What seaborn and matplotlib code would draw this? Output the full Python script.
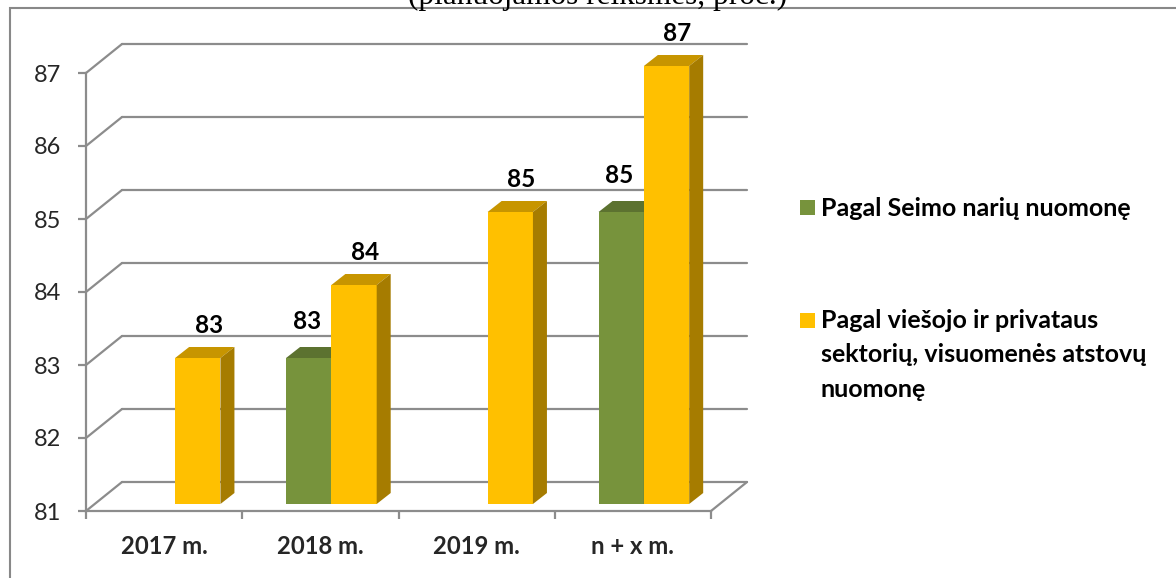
import numpy as np
import pandas as pd
import matplotlib
matplotlib.use("Agg")
import matplotlib.pyplot as plt
import seaborn as sns
from matplotlib.patches import Polygon, Rectangle
from matplotlib.lines import Line2D

# ---------------- data ----------------
categories = ["2017 m.", "2018 m.", "2019 m.", "n + x m."]
series_names = ["Pagal Seimo narių nuomonę",
                "Pagal viešojo ir privataus\nsektorių, visuomenės atstovų\nnuomonę"]
seimo_values = [np.nan, 83, np.nan, 85]
visuomenes_values = [83, 84, 85, 87]
y_ticks = [81, 82, 83, 84, 85, 86, 87]
title_text = "(planuojamos reikšmės, proc.)"

# ---------------- style ----------------
green_front, green_top, green_side = "#77933C", "#5C7230", "#4F6228"
yellow_front, yellow_top, yellow_side = "#FFC000", "#C79500", "#A67C00"
grid_col = "#8C8C8C"

sns.set_style("white")
plt.rcParams["font.family"] = ["Lato", "DejaVu Sans"]

df = pd.DataFrame({
    "category": categories * 2,
    "series": [series_names[0]] * 4 + [series_names[1]] * 4,
    "value": seimo_values + visuomenes_values,
})

W, H = 1176, 578
fig = plt.figure(figsize=(W / 100, H / 100), dpi=100)
ax = fig.add_axes([86 / W, 67 / H, 625 / W, 438 / H])

sns.barplot(data=df, x="category", y="value", hue="series",
            order=categories, hue_order=series_names,
            palette=[green_front, yellow_front], saturation=1,
            width=0.58, linewidth=0, edgecolor="none", legend=False, ax=ax)

ymin, ymax = y_ticks[0], y_ticks[-1]
ax.set_ylim(ymin, ymax)
ax.set_xlim(-0.5, len(categories) - 0.5)
ax.set_xlabel("")
ax.set_ylabel("")
ax.patch.set_alpha(0)


def off(x, y, dx, dy):
    p = ax.transData.transform((x, y))
    return ax.transData.inverted().transform(p + np.array([dx, dy]))


# pseudo-3D walls: back grid lines, side diagonals, floor
WD = (36, 29)   # wall depth in pixels
xl, xr = -0.5, len(categories) - 0.5
for t in y_ticks:
    bl = off(xl, t, *WD)
    br = off(xr, t, *WD)
    ax.add_line(Line2D([bl[0], br[0]], [bl[1], br[1]], color=grid_col, lw=1.6,
                       clip_on=False, zorder=0.5))
    ax.add_line(Line2D([xl, bl[0]], [t, bl[1]], color=grid_col, lw=1.6,
                       clip_on=False, zorder=0.5))
fr = off(xr, ymin, *WD)
ax.add_line(Line2D([xr, fr[0]], [ymin, fr[1]], color=grid_col, lw=1.6,
                   clip_on=False, zorder=0.5))

# bars: shift into the floor, add top and side faces
BF = (11, 7)    # front face shift
BD = (14, 11)   # bar depth
bars = [p for p in ax.patches if isinstance(p, Rectangle)]
n_g = sum(~np.isnan(seimo_values))
for i, bar in enumerate(bars):
    is_green = i < n_g
    top_c = green_top if is_green else yellow_top
    side_c = green_side if is_green else yellow_side
    z = 2 if is_green else 3
    lab_off = (-2, 29) if is_green else (11, 25)
    x0, w, v = bar.get_x(), bar.get_width(), bar.get_height()
    nx0, ny0 = off(x0, ymin, *BF)
    nx1, ny1 = off(x0 + w, v, *BF)
    bar.set_x(nx0)
    bar.set_y(ny0)
    bar.set_width(nx1 - nx0)
    bar.set_height(ny1 - ny0)
    bar.set_zorder(z)
    bar.set_clip_on(False)
    # top face
    a = (nx0, ny1); b = (nx1, ny1)
    c = off(nx1, ny1, *BD); d = off(nx0, ny1, *BD)
    ax.add_patch(Polygon([a, b, c, d], closed=True, fc=top_c, ec="none",
                         zorder=z, clip_on=False))
    # side face
    e = (nx1, ny0); f = off(nx1, ny0, *BD)
    ax.add_patch(Polygon([e, b, c, f], closed=True, fc=side_c, ec="none",
                         zorder=z, clip_on=False))
    # value label
    lx, ly = off((nx0 + nx1) / 2, ny1, *lab_off)
    ax.text(lx, ly, f"{v:.0f}", ha="center", va="baseline", fontsize=17.5,
            fontweight="bold", color="black", zorder=5)

# axes
for s in ["top", "right"]:
    ax.spines[s].set_visible(False)
for s in ["left", "bottom"]:
    ax.spines[s].set_color(grid_col)
    ax.spines[s].set_linewidth(1.6)
    ax.spines[s].set_zorder(1)
ax.set_yticks(y_ticks)
ax.set_yticklabels([str(t) for t in y_ticks], fontsize=17)
ax.tick_params(axis="y", length=6, width=1.6, color=grid_col, pad=12, left=True)
ax.set_xticks(np.arange(-0.5, len(categories), 1.0))
ax.set_xticklabels([""] * (len(categories) + 1))
ax.set_xticks(np.arange(len(categories)), minor=True)
ax.set_xticklabels(categories, minor=True, fontsize=17.2, fontweight="bold")
ax.tick_params(axis="x", which="major", length=6, width=1.6, color=grid_col, bottom=True)
ax.tick_params(axis="x", which="minor", length=0, pad=17)
ax.grid(False)

# legend
leg_colors = [green_front, yellow_front]
leg_first_baseline = [215.5, 328]
line_gap = 34.5
for name, col, yb in zip(series_names, leg_colors, leg_first_baseline):
    fig.patches.append(Rectangle((800 / W, 1 - (yb - 0.5) / H), 15 / W, 15 / H,
                                 transform=fig.transFigure, fc=col, ec="none"))
    for k, line in enumerate(name.split("\n")):
        fig.text(821 / W, 1 - (yb + k * line_gap) / H, line, ha="left",
                 va="baseline", fontsize=18, fontweight="bold", color="black")

# outer frame and cut title
fig.patches.append(Rectangle((10 / W, -0.05), 1.2, 1 - 8 / H + 0.05,
                             transform=fig.transFigure, fill=False,
                             ec="#888888", lw=1.5))
fig.text(598 / W, 1 - 4 / H, title_text, ha="center", va="baseline",
         fontsize=22.5, family="Liberation Serif", color="black")

fig.savefig("out.png", dpi=100)
